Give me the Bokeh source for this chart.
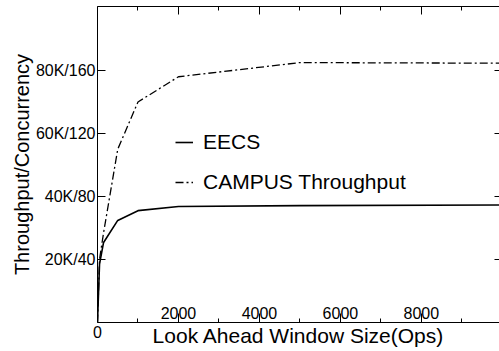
from bokeh.plotting import figure
from bokeh.models import (LinearAxis, FixedTicker, Legend, LegendItem, Range1d,
                          ColumnDataSource)
from bokeh.core.properties import value
from bokeh.embed import file_html
from bokeh.resources import INLINE

# ---- data ----
window = [0, 50, 150, 500, 1000, 2000, 5000, 10000]
eecs = [0, 18500, 25400, 32400, 35500, 36800, 37100, 37300]
campus = [0, 20000, 28500, 55000, 70000, 78000, 82500, 82300]

x_major = [0, 2000, 4000, 6000, 8000]
x_minor = [1000, 3000, 5000, 7000, 9000]
x_inside = [2000, 4000, 6000, 8000]
x_inside_labels = ["2000", "4000", "6000", "8000"]
y_ticks = [20000, 40000, 60000, 80000]
y_labels = ["20K/40", "40K/80", "60K/120", "80K/160"]

FONT = "Liberation Sans"

p = figure(width=499, height=351, output_backend="svg", toolbar_location=None,
           x_range=Range1d(0, 9930), y_range=Range1d(0, 100300),
           x_axis_type=None, y_axis_type=None,
           min_border_left=97, min_border_right=0, min_border_top=6,
           min_border_bottom=29)
p.outline_line_color = None
p.xgrid.visible = False
p.ygrid.visible = False
p.background_fill_color = "white"
p.border_fill_color = "white"

src = ColumnDataSource(dict(x=window, eecs=eecs, campus=campus))
r1 = p.line("x", "eecs", source=src, line_color="black", line_width=1.6)
r2 = p.line("x", "campus", source=src, line_color="black", line_width=1.3,
            line_dash="8 3 2 3")

# left axis
left = LinearAxis(ticker=FixedTicker(ticks=y_ticks),
                  major_label_overrides={t: l for t, l in zip(y_ticks, y_labels)},
                  major_tick_in=8, major_tick_out=0,
                  minor_tick_in=0, minor_tick_out=0,
                  major_label_standoff=2,
                  major_label_text_font=FONT, major_label_text_font_size="16px",
                  major_label_text_color="black",
                  axis_label="Throughput/Concurrency",
                  axis_label_text_font=FONT, axis_label_text_font_size="20px",
                  axis_label_text_font_style="normal", axis_label_text_color="black",
                  axis_label_standoff=0,
                  axis_line_color="black", major_tick_line_color="black")
p.add_layout(left, "left")

# right axis (ticks only)
right = LinearAxis(ticker=FixedTicker(ticks=y_ticks),
                   major_label_overrides={t: "" for t in y_ticks},
                   major_tick_in=5, major_tick_out=0,
                   minor_tick_in=0, minor_tick_out=0,
                   major_label_standoff=0, major_label_text_font_size="0px",
                   axis_line_color=None, major_tick_line_color="black")
p.add_layout(right, "right")

# bottom axis
bottom = LinearAxis(ticker=FixedTicker(ticks=x_major, minor_ticks=x_minor),
                    major_label_overrides={t: ("0" if t == 0 else "") for t in x_major},
                    major_tick_in=9, major_tick_out=0,
                    minor_tick_in=4, minor_tick_out=0,
                    major_label_standoff=3,
                    major_label_text_font=FONT, major_label_text_font_size="16px",
                    major_label_text_color="black",
                    axis_label="Look Ahead Window Size(Ops)",
                    axis_label_text_font=FONT, axis_label_text_font_size="21px",
                    axis_label_text_font_style="normal", axis_label_text_color="black",
                    axis_label_standoff=-17,
                    axis_line_color="black", major_tick_line_color="black",
                    minor_tick_line_color="black")
p.add_layout(bottom, "below")

# top axis (ticks only)
top = LinearAxis(ticker=FixedTicker(ticks=x_major, minor_ticks=x_minor),
                 major_label_overrides={t: "" for t in x_major},
                 major_tick_in=8, major_tick_out=0,
                 minor_tick_in=4, minor_tick_out=0,
                 major_label_standoff=0, major_label_text_font_size="0px",
                 axis_line_color="black", major_tick_line_color="black",
                 minor_tick_line_color="black")
p.add_layout(top, "above")

# x tick labels drawn inside the frame, just above the axis
p.text(x=x_inside, y=[0] * len(x_inside), text=x_inside_labels,
       text_align="center", text_baseline="alphabetic", y_offset=-10,
       text_font=value(FONT), text_font_size="16px", text_color="black")

legend = Legend(items=[LegendItem(label="EECS", renderers=[r1]),
                       LegendItem(label="CAMPUS Throughput", renderers=[r2])],
                location=(78, 128), border_line_color=None,
                background_fill_alpha=0, padding=0, margin=0, spacing=16,
                glyph_width=18, glyph_height=20, label_height=20,
                label_standoff=10, label_text_font=FONT,
                label_text_font_size="21px", label_text_color="black")
p.add_layout(legend)

open("out.html", "w").write(file_html(p, INLINE))
